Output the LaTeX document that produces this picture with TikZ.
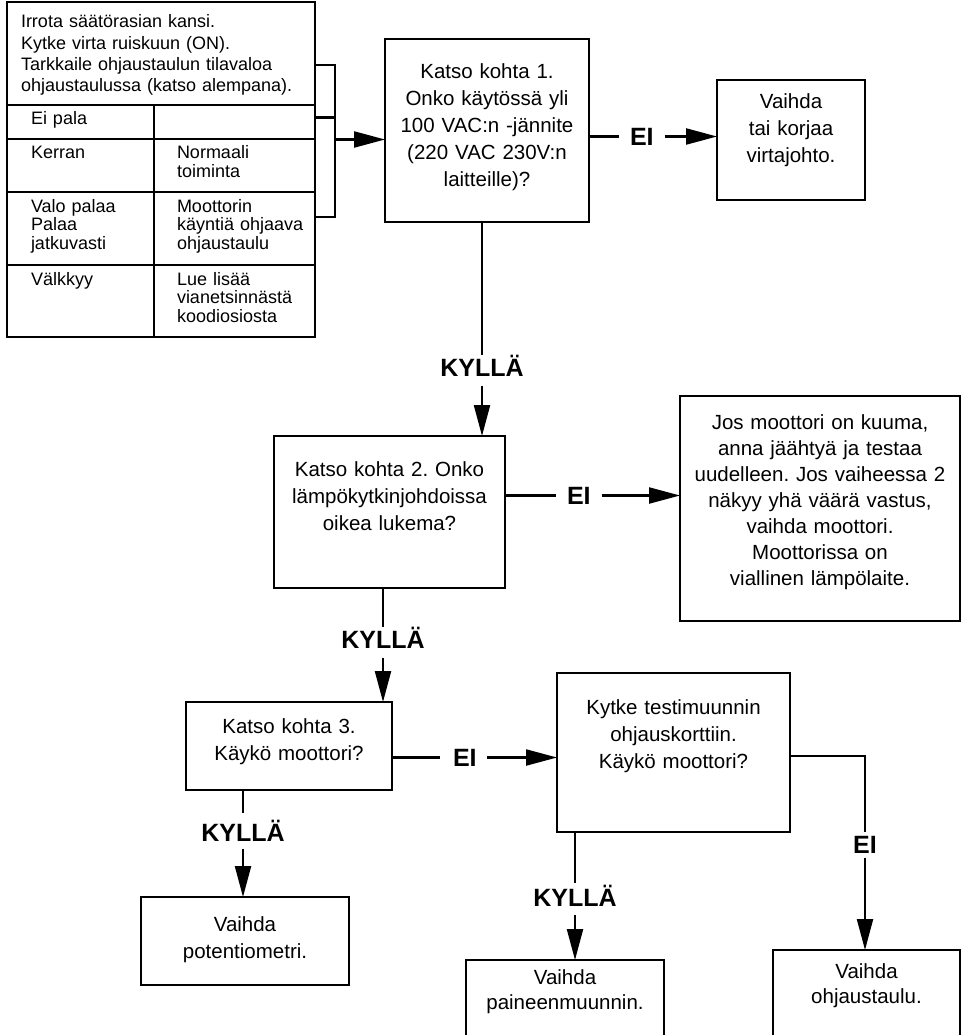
\documentclass[tikz,border=0pt]{standalone}
\usepackage{fontspec}
\setmainfont{Liberation Sans}
\usepackage{tikz}
\usetikzlibrary{arrows.meta, positioning}
\hyphenpenalty=10000
\exhyphenpenalty=10000
\frenchspacing

\begin{document}
\begin{tikzpicture}[
      x=1pt, y=-1pt,
      box/.style={rectangle, draw, line width=2.6pt, outer sep=0pt, inner sep=0pt, align=center, font=\fontsize{20.5}{27}\selectfont},
      cell/.style={rectangle, draw, line width=2.6pt, outer sep=0pt, inner xsep=23pt, inner ysep=0pt, align=left, text height=20pt, font=\fontsize{18}{18.5}\selectfont},
      answer/.style={inner sep=0pt, outer sep=0pt, text height=18pt, text depth=0pt, font=\bfseries\fontsize{25}{25}\selectfont},
      link/.style={line width=2.2pt},
      arrow/.style={line width=2.2pt, -{Triangle[length=31pt, width=16pt]}}
  ]
      \path[use as bounding box, clip] (0,0) rectangle (967,1035);

      % Status light table
      \node[cell, anchor=north west, inner xsep=14pt, text width=280pt, text height=26pt, text depth=77pt, font=\fontsize{18}{21.3}\selectfont] (TH) at (7,2) {Irrota säätörasian kansi.\\Kytke virta ruiskuun (ON).\\Tarkkaile ohjaustaulun tilavaloa\\ohjaustaulussa (katso alempana).};
      \node[cell, inner xsep=24pt, text width=99pt, text depth=14pt, below=0pt of TH.south west, anchor=north west] (c11) {Ei pala};
      \node[cell, text width=115pt, text depth=14pt, right=0pt of c11] (c12) {};
      \node[cell, inner xsep=24pt, text width=99pt, text depth=33pt, below=0pt of c11.south west, anchor=north west] (c21) {Kerran};
      \node[cell, text width=115pt, text depth=33pt, right=0pt of c21] (c22) {Normaali\\toiminta};
      \node[cell, inner xsep=24pt, text width=99pt, text depth=53pt, below=0pt of c21.south west, anchor=north west] (c31) {Valo palaa\\Palaa\\jatkuvasti};
      \node[cell, text width=115pt, text depth=53pt, right=0pt of c31] (c32) {Moottorin\\käyntiä~ohjaava\\ohjaustaulu};
      \node[cell, inner xsep=24pt, text width=99pt, text depth=52pt, below=0pt of c31.south west, anchor=north west] (c41) {Välkkyy};
      \node[cell, text width=115pt, text depth=52pt, right=0pt of c41] (c42) {Lue lisää\\vianetsinnästä\\koodiosiosta};

      % Check steps
      \node[box, text width=204pt, text height=40pt, text depth=143pt] (K1) at (487,130.5) {Katso kohta 1.\\Onko käytössä yli\\100 VAC:n -jännite\\(220 VAC 230V:n\\laitteille)?};
      \node[box, text width=231pt, text height=40pt, text depth=112pt, below=214pt of K1, xshift=-97.5pt] (K2) {Katso kohta 2. Onko\\lämpökytkinjohdoissa\\oikea lukema?};
      \node[box, text width=206pt, text height=31pt, text depth=57pt, below=114pt of K2, xshift=-100.5pt] (K3) {Katso kohta 3.\\Käykö moottori?};
      \node[box, text width=233pt, text height=41pt, text depth=118pt, right=165pt of K3, yshift=-6.5pt] (KT) {Kytke testimuunnin\\ohjauskorttiin.\\Käykö moottori?};

      % Actions
      \node[box, text width=148pt, text height=29pt, text depth=91pt, right=128pt of K1, yshift=-9.5pt] (V1) {Vaihda\\tai korjaa\\virtajohto.};
      \node[box, text width=280pt, text height=33pt, text depth=192pt, font=\fontsize{20.5}{26}\selectfont, right=175pt of K2, yshift=3.5pt] (J) {Jos moottori on kuuma,\\anna jäähtyä ja testaa\\uudelleen. Jos vaiheessa 2\\näkyy yhä väärä vastus,\\vaihda moottori.\\Moottorissa on\\viallinen lämpölaite.};
      \node[box, text width=208pt, text height=34pt, text depth=54pt, below=107pt of K3, xshift=-44pt] (VP) {Vaihda\\potentiometri.};
      \node[box, text width=198pt, text height=24pt, text depth=66pt, font=\fontsize{20.5}{25}\selectfont, below=128pt of KT, xshift=-108.5pt] (VPM) {Vaihda\\paineenmuunnin.};
      \node[box, text width=187pt, text height=28pt, text depth=72pt, font=\fontsize{20.5}{25}\selectfont, below=118pt of KT, xshift=193pt] (VO) {Vaihda\\ohjaustaulu.};

      % Answer labels
      \node[answer, right=41pt of K1, yshift=-6pt] (e1) {EI};
      \node[answer, below=136pt of K1, xshift=-5pt] (kA) {KYLLÄ};
      \node[answer, right=62pt of K2, yshift=16.5pt] (e2) {EI};
      \node[answer, below=42pt of K2, xshift=-6.5pt] (kB) {KYLLÄ};
      \node[answer, right=61pt of K3, yshift=-11.5pt] (e3) {EI};
      \node[answer, below=33pt of K3, xshift=-46pt] (kC) {KYLLÄ};
      \node[answer, below=56pt of KT, xshift=-98.5pt] (kD) {KYLLÄ};
      \node[answer, below=3pt of KT, xshift=191.5pt] (e4) {EI};

      % Bracket from the table
      \coordinate (br) at (335,139.5);
      \draw[link] ([yshift=-11.5pt]TH.east) -| (br) |- ([yshift=11.5pt]c32.east);
      \draw[link] ([yshift=4.5pt]c12.east) -- ++(20,0);
      \draw[arrow] (br) -- (br -| K1.west);

      % Arrows
      \draw[link] (K1.east |- e1) -- ([xshift=-11pt]e1.west);
      \draw[arrow] ([xshift=11pt]e1.east) -- (e1 -| V1.west);
      \draw[link] (K1.south -| kA) -- ([yshift=3pt]kA.north);
      \draw[arrow] ([yshift=-10pt]kA.south) -- (kA |- K2.north);
      \draw[link] (K2.east |- e2) -- ([xshift=-11pt]e2.west);
      \draw[arrow] ([xshift=11pt]e2.east) -- (e2 -| J.west);
      \draw[link] (K2.south -| kB) -- ([yshift=3pt]kB.north);
      \draw[arrow] ([yshift=-10pt]kB.south) -- (kB |- K3.north);
      \draw[link] (K3.east |- e3) -- ([xshift=-13pt]e3.west);
      \draw[arrow] ([xshift=10pt]e3.east) -- (e3 -| KT.west);
      \draw[link] (K3.south -| kC) -- ([yshift=10pt]kC.north);
      \draw[arrow] ([yshift=-8pt]kC.south) -- (kC |- VP.north);
      \draw[link] (KT.south -| kD) -- ([yshift=5pt]kD.north);
      \draw[arrow] ([yshift=-9pt]kD.south) -- (kD |- VPM.north);
      \draw[link] ([yshift=-3.5pt]KT.east) -| ([yshift=3pt]e4.north);
      \draw[arrow] ([yshift=-5pt]e4.south) -- (e4 |- VO.north);
  \end{tikzpicture}
\end{document}
